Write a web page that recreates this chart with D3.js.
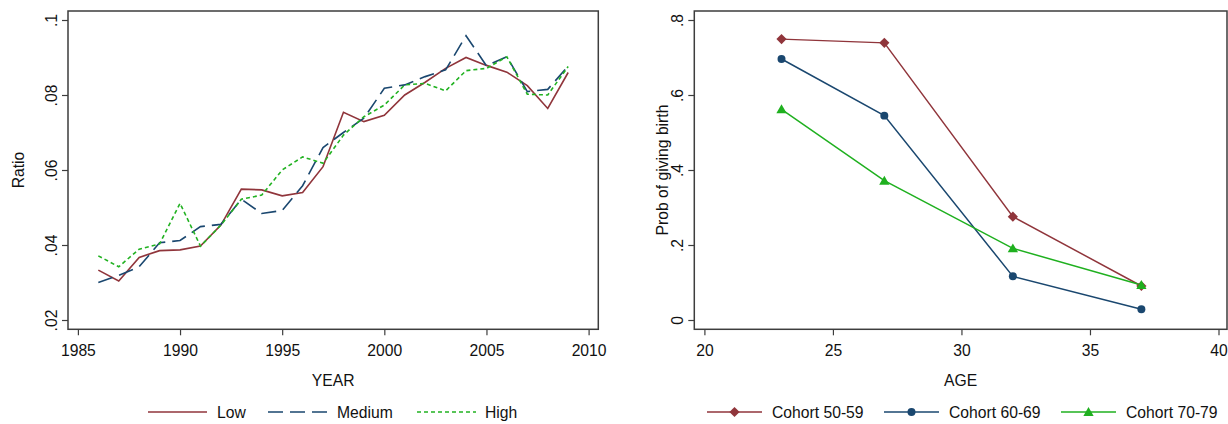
<!DOCTYPE html>
<html><head><meta charset="utf-8">
<script src="https://cdn.jsdelivr.net/npm/d3@7"></script>
<style>
body{margin:0;background:#fff;}
svg{display:block;font-family:"Liberation Sans",Arial,sans-serif;}
</style></head><body>
<svg id="c" width="1228" height="424"></svg>
<script>
// ---- Left chart data ----
const years = [1986,1987,1988,1989,1990,1991,1992,1993,1994,1995,1996,1997,1998,1999,2000,2001,2002,2003,2004,2005,2006,2007,2008,2009];
const lowRatio = [0.0333,0.0304,0.0367,0.0385,0.0387,0.0397,0.0453,0.0549,0.0547,0.0531,0.0540,0.0609,0.0754,0.0729,0.0746,0.0800,0.0834,0.0871,0.0900,0.0879,0.0861,0.0825,0.0764,0.0860];
const mediumRatio = [0.0300,0.0319,0.0342,0.0406,0.0412,0.0449,0.0455,0.0522,0.0484,0.0492,0.0558,0.0660,0.0700,0.0738,0.0818,0.0827,0.0849,0.0867,0.0958,0.0878,0.0902,0.0809,0.0815,0.0877];
const highRatio = [0.0371,0.0342,0.0389,0.0403,0.0511,0.0397,0.0453,0.0522,0.0533,0.0600,0.0635,0.0618,0.0693,0.0742,0.0773,0.0827,0.0831,0.0811,0.0865,0.0871,0.0902,0.0802,0.0800,0.0876];
const seriesNamesL = ["Low","Medium","High"];
const yearTicks = [1985,1990,1995,2000,2005,2010];
const ratioTicks = [0.02,0.04,0.06,0.08,0.1];
const ratioTickLabels = [".02",".04",".06",".08",".1"];

// ---- Right chart data ----
const ages = [23,27,32,37];
const cohort5059 = [0.749,0.739,0.2756,0.0907];
const cohort6069 = [0.696,0.545,0.1164,0.0284];
const cohort7079 = [0.5618,0.3716,0.191,0.0933];
const seriesNamesR = ["Cohort 50-59","Cohort 60-69","Cohort 70-79"];
const ageTicks = [20,25,30,35,40];
const probTicks = [0,0.2,0.4,0.6,0.8];
const probTickLabels = ["0",".2",".4",".6",".8"];

const svg = d3.select("#c");
const FS = "15.7px";
const frameColor = "#3d3d3d";
const cRed = "#90353b", cBlue = "#1a476f", cGreen = "#22b222";

function panel(o){
  const g = svg.append("g");
  g.append("rect").attr("x",o.fx0).attr("y",11).attr("width",o.fx1-o.fx0).attr("height",329.3-11)
    .attr("fill","none").attr("stroke",frameColor).attr("stroke-width",1.5);
  const ya = g.append("g").attr("transform",`translate(${o.fx0},0)`)
    .call(d3.axisLeft(o.y).tickValues(o.yTicks).tickSize(6).tickFormat((d,i)=>o.yLabels[i]));
  ya.select(".domain").remove();
  ya.selectAll("line").attr("stroke",frameColor).attr("stroke-width",1.2);
  ya.selectAll("text").attr("x",null).attr("dy",null).attr("y",null)
    .attr("transform","translate(-11,0) rotate(-90)").attr("text-anchor","middle")
    .style("font-size",FS).style("font-family","Liberation Sans, Arial, sans-serif").attr("fill","#111");
  const xa = g.append("g").attr("transform",`translate(0,329.3)`)
    .call(d3.axisBottom(o.x).tickValues(o.xTicks).tickSize(6).tickFormat(d3.format("d")));
  xa.select(".domain").remove();
  xa.selectAll("line").attr("stroke",frameColor).attr("stroke-width",1.2);
  xa.selectAll("text").attr("y",26.5).attr("dy",null)
    .style("font-size",FS).style("font-family","Liberation Sans, Arial, sans-serif").attr("fill","#111");
  g.append("text").attr("x",(o.fx0+o.fx1)/2).attr("y",386).attr("text-anchor","middle")
    .style("font-size",FS).attr("fill","#111").text(o.xTitle);
  g.append("text").attr("transform",`translate(${o.yTitleX},170) rotate(-90)`).attr("text-anchor","middle")
    .style("font-size",FS).attr("fill","#111").text(o.yTitle);
  return g;
}

// ---- Left panel ----
const xL = d3.scaleLinear().domain([1985,2010]).range([77.9,588.6]);
const yL = d3.scaleLinear().domain([0.02,0.1]).range([320,20]);
const gL = panel({fx0:68,fx1:598.3,x:xL,y:yL,xTicks:yearTicks,yTicks:ratioTicks,yLabels:ratioTickLabels,xTitle:"YEAR",yTitle:"Ratio",yTitleX:24});
const stylesL = [
  {c:cRed,dash:null},
  {c:cBlue,dash:"15,7"},
  {c:cGreen,dash:"4,3"}
];
const dataL = [lowRatio,mediumRatio,highRatio];
const lineL = d3.line().x(d=>xL(d[0])).y(d=>yL(d[1]));
dataL.forEach((vals,i)=>{
  gL.append("path").datum(years.map((yr,j)=>[yr,vals[j]]))
    .attr("d",lineL).attr("fill","none").attr("stroke",stylesL[i].c).attr("stroke-width",1.6)
    .attr("stroke-dasharray",stylesL[i].dash).attr("stroke-linejoin","miter");
});
const legL = [{x0:148,tx:217},{x0:268,tx:337},{x0:417,tx:485}];
seriesNamesL.forEach((n,i)=>{
  gL.append("line").attr("x1",legL[i].x0).attr("x2",legL[i].x0+59).attr("y1",412).attr("y2",412)
    .attr("stroke",stylesL[i].c).attr("stroke-width",1.6).attr("stroke-dasharray",stylesL[i].dash);
  gL.append("text").attr("x",legL[i].tx).attr("y",417.5).style("font-size",FS).attr("fill","#111").text(n);
});

// ---- Right panel ----
const xR = d3.scaleLinear().domain([20,40]).range([704.4,1218.5]);
const yR = d3.scaleLinear().domain([0,0.8]).range([320,20]);
const gR = panel({fx0:694.3,fx1:1227,x:xR,y:yR,xTicks:ageTicks,yTicks:probTicks,yLabels:probTickLabels,xTitle:"AGE",yTitle:"Prob of giving birth",yTitleX:668});
const dataR = [cohort5059,cohort6069,cohort7079];
const colorsR = [cRed,cBlue,"#1fb01f"];
const symR = [d3.symbolSquare,d3.symbolCircle,d3.symbolTriangle];
const sizeR = [52,50,46];
const rotR = [45,0,0];
const dyR = [0,0,1];
const lineR = d3.line().x(d=>xR(d[0])).y(d=>yR(d[1]));
dataR.forEach((vals,i)=>{
  const pts = ages.map((a,j)=>[a,vals[j]]);
  gR.append("path").datum(pts).attr("d",lineR).attr("fill","none")
    .attr("stroke",colorsR[i]).attr("stroke-width",1.5);
});
dataR.forEach((vals,i)=>{
  const pts = ages.map((a,j)=>[a,vals[j]]);
  gR.selectAll(null).data(pts).enter().append("path")
    .attr("d",d3.symbol().type(symR[i]).size(sizeR[i]))
    .attr("transform",d=>`translate(${xR(d[0])},${yR(d[1])+dyR[i]}) rotate(${rotR[i]})`)
    .attr("fill",colorsR[i]);
});
const legR = [{x0:707,tx:772},{x0:884,tx:949},{x0:1061,tx:1126}];
seriesNamesR.forEach((n,i)=>{
  gR.append("line").attr("x1",legR[i].x0).attr("x2",legR[i].x0+55).attr("y1",412).attr("y2",412)
    .attr("stroke",colorsR[i]).attr("stroke-width",1.5);
  gR.append("path").attr("d",d3.symbol().type(symR[i]).size(sizeR[i]))
    .attr("transform",`translate(${legR[i].x0+27.5},${412+dyR[i]}) rotate(${rotR[i]})`).attr("fill",colorsR[i]);
  gR.append("text").attr("x",legR[i].tx).attr("y",417.5).style("font-size",FS).attr("fill","#111").text(n);
});
</script>
</body></html>
